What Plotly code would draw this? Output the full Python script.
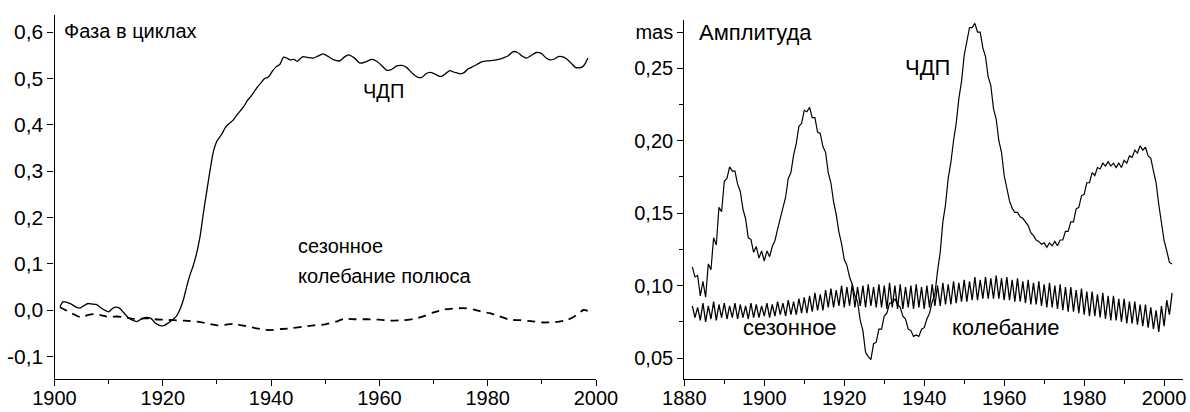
import plotly.graph_objects as go

# ---------------- left panel: phase in cycles ----------------
phase_cdp_years = [1901.0, 1901.6, 1902.4, 1903.2, 1904.0, 1904.7, 1905.5, 1906.2, 1906.9, 1907.7,
                   1908.4, 1909.2, 1910.0, 1910.6, 1911.2, 1912.0, 1912.8, 1913.6, 1914.4, 1915.2,
                   1916.0, 1917.0, 1917.8, 1918.6, 1919.4, 1920.2, 1921.0, 1921.9, 1922.6, 1923.2,
                   1923.8, 1924.4, 1925.0, 1925.6, 1926.2, 1926.9, 1927.5, 1928.1, 1928.7, 1929.3,
                   1930.0, 1930.9, 1931.6, 1932.3, 1933.0, 1933.6, 1934.3, 1935.0, 1935.6, 1936.2,
                   1936.8, 1937.5, 1938.1, 1938.8, 1939.5, 1940.2, 1940.9, 1941.6, 1942.3, 1942.9,
                   1943.5, 1944.2, 1944.8, 1945.4, 1945.9, 1946.8, 1947.8, 1948.6, 1949.6, 1950.6,
                   1951.6, 1952.7, 1953.5, 1954.3, 1955.3, 1956.4, 1957.5, 1958.6, 1959.5, 1960.5,
                   1961.3, 1962.2, 1963.2, 1964.1, 1965.0, 1966.0, 1967.0, 1967.8, 1968.6, 1969.3,
                   1970.2, 1971.0, 1971.6, 1972.4, 1973.0, 1973.9, 1975.0, 1975.7, 1976.3, 1977.0,
                   1978.0, 1978.9, 1980.0, 1981.0, 1982.0, 1983.0, 1983.8, 1984.7, 1985.5, 1986.4,
                   1987.2, 1988.1, 1989.0, 1989.9, 1990.8, 1991.5, 1992.3, 1993.0, 1993.7, 1994.6,
                   1995.5, 1996.2, 1996.8, 1997.5, 1998.0, 1998.5]
phase_cdp_vals = [0.007, 0.018, 0.016, 0.012, 0.006, 0.004, 0.010, 0.014, 0.013, 0.012,
                  0.006, 0.000, -0.004, 0.002, 0.006, 0.004, -0.006, -0.016, -0.022, -0.025,
                  -0.020, -0.016, -0.018, -0.028, -0.033, -0.034, -0.028, -0.020, -0.012, 0.002,
                  0.022, 0.050, 0.075, 0.095, 0.120, 0.160, 0.210, 0.255, 0.300, 0.340,
                  0.365, 0.380, 0.395, 0.403, 0.410, 0.420, 0.430, 0.440, 0.452, 0.460,
                  0.470, 0.482, 0.490, 0.500, 0.503, 0.515, 0.525, 0.530, 0.546, 0.544,
                  0.540, 0.541, 0.537, 0.543, 0.547, 0.545, 0.544, 0.548, 0.553, 0.547,
                  0.540, 0.538, 0.546, 0.551, 0.545, 0.533, 0.536, 0.541, 0.537, 0.527,
                  0.518, 0.519, 0.527, 0.528, 0.524, 0.512, 0.503, 0.502, 0.510, 0.513,
                  0.510, 0.505, 0.505, 0.512, 0.517, 0.513, 0.510, 0.513, 0.520, 0.524,
                  0.530, 0.536, 0.538, 0.539, 0.541, 0.545, 0.549, 0.558, 0.556, 0.548,
                  0.544, 0.550, 0.556, 0.554, 0.544, 0.540, 0.542, 0.547, 0.547, 0.542,
                  0.532, 0.524, 0.523, 0.525, 0.532, 0.544]

phase_season_years = [1901.0, 1902.0, 1903.0, 1904.0, 1904.7, 1905.5, 1906.5, 1907.5, 1908.5, 1909.5,
                      1910.5, 1911.5, 1912.5, 1913.5, 1914.5, 1915.5, 1916.5, 1917.5, 1918.5, 1920.0,
                      1921.9, 1924.0, 1926.9, 1928.5, 1930.0, 1931.5, 1933.0, 1935.0, 1937.0, 1939.0,
                      1940.5, 1942.0, 1944.0, 1946.0, 1948.0, 1950.0, 1952.0, 1953.5, 1955.5, 1957.7,
                      1960.0, 1962.0, 1964.5, 1966.9, 1968.5, 1970.0, 1972.0, 1973.5, 1975.5, 1977.5,
                      1979.0, 1980.4, 1982.0, 1984.1, 1986.0, 1988.0, 1990.3, 1992.5, 1994.6, 1996.0,
                      1997.7, 1998.9]
phase_season_vals = [0.006, 0.000, -0.006, -0.012, -0.015, -0.013, -0.010, -0.009, -0.011, -0.014,
                     -0.015, -0.014, -0.015, -0.017, -0.019, -0.019, -0.018, -0.018, -0.020, -0.021,
                     -0.022, -0.023, -0.026, -0.030, -0.033, -0.032, -0.030, -0.034, -0.039, -0.043,
                     -0.043, -0.041, -0.039, -0.036, -0.033, -0.031, -0.025, -0.019, -0.020, -0.020,
                     -0.021, -0.023, -0.022, -0.018, -0.012, -0.005, 0.001, 0.003, 0.004, 0.001,
                     -0.004, -0.007, -0.013, -0.021, -0.022, -0.024, -0.027, -0.026, -0.022, -0.014,
                     0.000, -0.004]

left_y_ticks = [-0.1, 0.0, 0.1, 0.2, 0.3, 0.4, 0.5, 0.6]
left_y_labels = ["-0,1", "0,0", "0,1", "0,2", "0,3", "0,4", "0,5", "0,6"]
left_x_ticks = [1900, 1920, 1940, 1960, 1980, 2000]
left_x_labels = ["1900", "1920", "1940", "1960", "1980", "2000"]

# ---------------- right panel: amplitude (mas) ----------------
# one oscillation tooth every 4/3 year starting 1882: peak at node, trough in between
node_start = 1882.0
node_step = 4.0 / 3.0

cdp_amp_peak = [0.113, 0.107, 0.103, 0.115, 0.133, 0.154, 0.172, 0.182, 0.179, 0.165,
                0.146, 0.132, 0.127, 0.124, 0.124, 0.127, 0.139, 0.155, 0.174, 0.190,
                0.210, 0.221, 0.223, 0.216, 0.205, 0.192, 0.171, 0.149, 0.129, 0.114,
                0.101, 0.089, 0.069, 0.051, 0.060, 0.070, 0.079, 0.088, 0.091, 0.085,
                0.077, 0.069, 0.066, 0.070, 0.077, 0.089, 0.110, 0.144, 0.174, 0.200,
                0.229, 0.259, 0.278, 0.281, 0.275, 0.258, 0.238, 0.215, 0.192, 0.1675,
                0.1535, 0.1505, 0.1465, 0.1415, 0.1345, 0.1305, 0.1295, 0.1295, 0.1305, 0.1315,
                0.1375, 0.144, 0.153, 0.162, 0.171, 0.178, 0.1815, 0.1845, 0.1855, 0.1845,
                0.1845, 0.1865, 0.1895, 0.1935, 0.1965, 0.1955, 0.188, 0.171, 0.144, 0.124,
                0.115]
cdp_amp_trough = [0.106, 0.093, 0.092, 0.111, 0.128, 0.151, 0.174, 0.179, 0.170, 0.153,
                  0.133, 0.123, 0.119, 0.117, 0.120, 0.131, 0.146, 0.161, 0.178, 0.198,
                  0.212, 0.220, 0.216, 0.206, 0.196, 0.178, 0.158, 0.137, 0.118, 0.106,
                  0.093, 0.076, 0.054, 0.049, 0.061, 0.070, 0.081, 0.088, 0.087, 0.079,
                  0.070, 0.065, 0.065, 0.071, 0.081, 0.094, 0.123, 0.156, 0.185, 0.212,
                  0.241, 0.269, 0.278, 0.275, 0.264, 0.244, 0.222, 0.200, 0.176, 0.1585,
                  0.1505, 0.1475, 0.1435, 0.1365, 0.1315, 0.1285, 0.1265, 0.1275, 0.1275, 0.1315,
                  0.1375, 0.144, 0.154, 0.163, 0.171, 0.176, 0.1805, 0.1825, 0.1825, 0.1815,
                  0.1815, 0.1845, 0.1885, 0.1915, 0.1935, 0.1895, 0.179, 0.156, 0.131, 0.116]

season_amp_peak = [0.086, 0.085, 0.088, 0.086, 0.089, 0.087, 0.088, 0.086, 0.088, 0.087,
                   0.086, 0.088, 0.087, 0.086, 0.088, 0.087, 0.089, 0.088, 0.090, 0.089,
                   0.091, 0.092, 0.093, 0.095, 0.094, 0.097, 0.098, 0.097, 0.100, 0.099,
                   0.101, 0.099, 0.100, 0.101, 0.099, 0.101, 0.100, 0.102, 0.100, 0.101,
                   0.099, 0.100, 0.101, 0.099, 0.100, 0.101, 0.100, 0.102, 0.101, 0.103,
                   0.102, 0.104, 0.103, 0.106, 0.104, 0.106, 0.105, 0.107, 0.105, 0.106,
                   0.104, 0.105, 0.103, 0.104, 0.102, 0.103, 0.101, 0.102, 0.100, 0.101,
                   0.099, 0.099, 0.097, 0.098, 0.096, 0.096, 0.094, 0.095, 0.093, 0.093,
                   0.091, 0.091, 0.089, 0.089, 0.087, 0.087, 0.085, 0.083, 0.086, 0.090,
                   0.095]
season_amp_trough = [0.078, 0.076, 0.075, 0.077, 0.076, 0.078, 0.077, 0.078, 0.077, 0.078,
                     0.077, 0.078, 0.078, 0.079, 0.078, 0.079, 0.080, 0.079, 0.080, 0.080,
                     0.081, 0.081, 0.082, 0.083, 0.083, 0.085, 0.085, 0.086, 0.085, 0.086,
                     0.085, 0.086, 0.085, 0.086, 0.085, 0.085, 0.084, 0.085, 0.084, 0.084,
                     0.085, 0.084, 0.085, 0.084, 0.085, 0.086, 0.086, 0.087, 0.087, 0.088,
                     0.089, 0.089, 0.090, 0.090, 0.091, 0.091, 0.091, 0.091, 0.090, 0.090,
                     0.089, 0.089, 0.088, 0.087, 0.087, 0.086, 0.085, 0.085, 0.084, 0.083,
                     0.082, 0.082, 0.081, 0.080, 0.079, 0.079, 0.078, 0.077, 0.076, 0.076,
                     0.075, 0.074, 0.074, 0.073, 0.072, 0.071, 0.070, 0.068, 0.072, 0.080]

right_y_ticks = [0.05, 0.10, 0.15, 0.20, 0.25, 0.275]
right_y_labels = ["0,05", "0,10", "0,15", "0,20", "0,25", "mas"]
right_y_minor = [0.075, 0.125, 0.175, 0.225]
right_x_ticks = [1880, 1900, 1920, 1940, 1960, 1980, 2000]
right_x_labels = ["1880", "1900", "1920", "1940", "1960", "1980", "2000"]


def zigzag(peaks, troughs):
    xs, ys = [], []
    for k, p in enumerate(peaks):
        t = node_start + k * node_step
        xs.append(t)
        ys.append(p)
        if k < len(troughs):
            xs.append(t + node_step / 2)
            ys.append(troughs[k])
    return xs, ys


FONT = "Liberation Sans, Arial, sans-serif"
W, H = 1190, 412

fig = go.Figure()

fig.add_trace(go.Scatter(x=phase_cdp_years, y=phase_cdp_vals, mode="lines",
                         line=dict(color="black", width=1.3, shape="spline", smoothing=0.6),
                         xaxis="x", yaxis="y", showlegend=False))
fig.add_trace(go.Scatter(x=phase_season_years, y=phase_season_vals, mode="lines",
                         line=dict(color="black", width=1.8, dash="8px,6px", shape="spline", smoothing=0.6),
                         xaxis="x", yaxis="y", showlegend=False))

sx, sy = zigzag(season_amp_peak, season_amp_trough)
cx, cy = zigzag(cdp_amp_peak, cdp_amp_trough)
fig.add_trace(go.Scatter(x=sx, y=sy, mode="lines", line=dict(color="black", width=1.3),
                         xaxis="x2", yaxis="y2", showlegend=False))
fig.add_trace(go.Scatter(x=cx, y=cy, mode="lines", line=dict(color="black", width=1.2),
                         xaxis="x2", yaxis="y2", showlegend=False))


def px(x):
    return x / W


def py(y):
    return 1 - y / H


axis_common = dict(showgrid=False, zeroline=False, showline=True, linecolor="black", linewidth=1.2,
                   ticks="outside", tickcolor="black", tickwidth=1.2, ticklen=6,
                   tickmode="array", color="black", automargin=False)

fig.update_layout(
    width=W, height=H, margin=dict(l=0, r=0, t=0, b=0),
    paper_bgcolor="white", plot_bgcolor="white",
    font=dict(family=FONT, color="black", size=19),
    xaxis=dict(domain=[px(54.5), px(596)], range=[1900, 2000], anchor="y",
               tickvals=left_x_ticks, ticktext=left_x_labels, tickfont=dict(size=20),
               ticklabelstandoff=-5,
               minor=dict(tickvals=[1910, 1930, 1950, 1970, 1990], ticklen=4, tickcolor="black",
                          ticks="outside", tickwidth=1.2),
               **axis_common),
    yaxis=dict(domain=[py(379), py(15)], range=[-0.149, 0.637], anchor="x",
               tickvals=left_y_ticks, ticktext=left_y_labels, tickfont=dict(size=21),
               **axis_common),
    xaxis2=dict(domain=[px(684.3), px(1183.3)], range=[1880, 2004.8], anchor="y2",
                tickvals=right_x_ticks, ticktext=right_x_labels, tickfont=dict(size=20),
                ticklabelstandoff=-5,
                minor=dict(tickvals=[1890, 1910, 1930, 1950, 1970, 1990], ticklen=4, tickcolor="black",
                           ticks="outside", tickwidth=1.2),
                **axis_common),
    yaxis2=dict(domain=[py(379), py(20)], range=[0.0356, 0.2833], anchor="x2",
                tickvals=right_y_ticks, ticktext=right_y_labels, tickfont=dict(size=20),
                minor=dict(tickvals=right_y_minor, ticklen=4, tickcolor="black",
                           ticks="outside", tickwidth=1.2),
                **axis_common),
)


def label(text, x_left, y_mid, size):
    fig.add_annotation(text=text, x=px(x_left), y=py(y_mid), xref="paper", yref="paper",
                       xanchor="left", yanchor="middle", showarrow=False,
                       font=dict(family=FONT, size=size, color="black"))


label("Фаза в циклах", 62, 31, 20)
label("ЧДП", 361, 91, 20)
label("сезонное", 296, 246, 20)
label("колебание полюса", 296, 276, 20)
label("Амплитуда", 697, 33, 22)
label("ЧДП", 903, 67, 22)
label("сезонное", 741, 327, 22)
label("колебание", 950, 327, 22)

fig.write_html("out.html", config={"displayModeBar": False},
               post_script="document.body.style.margin='0';document.body.style.overflow='hidden';")
